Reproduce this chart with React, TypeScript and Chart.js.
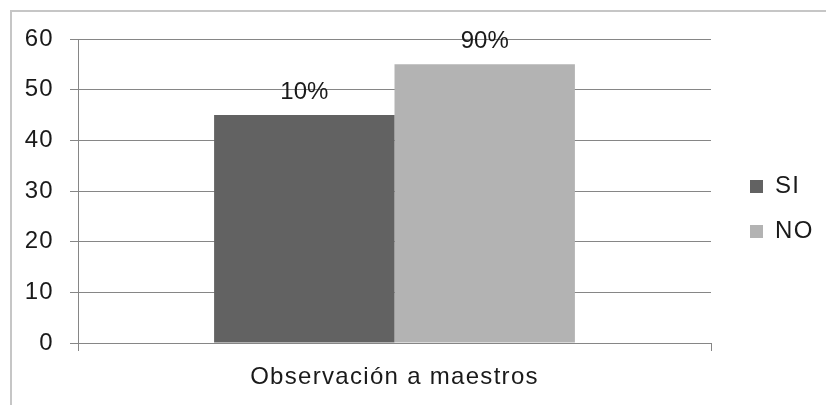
import React, { useEffect, useRef } from 'react';
import { Chart, registerables } from 'chart.js';

Chart.register(...registerables);

const categories = ['Observación a maestros'];
const seriesNames = ['SI', 'NO'];
const siValues = [45];
const noValues = [55];
const percentLabels = ['10%', '90%'];
const yMin = 0;
const yMax = 60;
const yStep = 10;

const FONT = "'Liberation Sans', Arial, sans-serif";
const TEXT = '#1a1a1a';
const AXIS = '#868686';

export default function App() {
  const ref = useRef<HTMLCanvasElement>(null);

  useEffect(() => {
    document.body.style.margin = '0';
    const canvas = ref.current;
    if (!canvas) return;

    const framePlugin = {
      id: 'frame',
      beforeDraw(chart: any) {
        const ctx = chart.ctx;
        ctx.save();
        ctx.strokeStyle = '#c6c6c6';
        ctx.lineWidth = 2;
        ctx.beginPath();
        ctx.moveTo(11, 430);
        ctx.lineTo(11, 11);
        ctx.lineTo(850, 11);
        ctx.stroke();
        ctx.restore();
        ctx.letterSpacing = '1.3px';
      },
      beforeDatasetsDraw(chart: any) {
        chart.ctx.letterSpacing = '0px';
      },
    };

    const legendShift = {
      id: 'legendShift',
      afterLayout(chart: any) {
        const lg = chart.legend;
        if (!lg) return;
        const DX = 18;
        const DY = -13;
        lg.left += DX;
        lg.right += DX;
        lg.top += DY;
        lg.bottom += DY;
      },
    };

    const dataLabels = {
      id: 'dataLabels',
      afterDatasetsDraw(chart: any) {
        const ctx = chart.ctx;
        ctx.save();
        ctx.letterSpacing = '0px';
        ctx.font = `24px ${FONT}`;
        ctx.fillStyle = TEXT;
        ctx.textAlign = 'center';
        ctx.textBaseline = 'alphabetic';
        chart.data.datasets.forEach((_ds: any, i: number) => {
          const meta = chart.getDatasetMeta(i);
          meta.data.forEach((el: any) => {
            ctx.fillText(percentLabels[i], el.x, el.y - 16);
          });
        });
        ctx.restore();
      },
    };

    const chart = new Chart(canvas, {
      type: 'bar',
      data: {
        labels: categories,
        datasets: [
          { label: seriesNames[0], data: siValues, backgroundColor: '#626262', borderWidth: 0 },
          { label: seriesNames[1], data: noValues, backgroundColor: '#b3b3b3', borderWidth: 0 },
        ],
      },
      options: {
        responsive: false,
        animation: false,
        devicePixelRatio: 1,
        layout: { padding: { top: 39, right: 23, bottom: 0, left: 0 } },
        datasets: { bar: { categoryPercentage: 0.57, barPercentage: 1 } },
        plugins: {
          tooltip: { enabled: false },
          legend: {
            position: 'right',
            labels: {
              font: { family: FONT, size: 24 },
              color: TEXT,
              boxWidth: 13,
              boxHeight: 13,
              padding: 21,
            },
          },
        },
        scales: {
          x: {
            grid: { drawOnChartArea: false, drawTicks: true, tickLength: 8, color: AXIS, offset: true },
            border: { color: AXIS },
            ticks: { font: { family: FONT, size: 24 }, color: TEXT, padding: 12 },
            afterFit: (s: any) => { s.height = 62; },
          },
          y: {
            min: yMin,
            max: yMax,
            ticks: { stepSize: yStep, padding: 16, font: { family: FONT, size: 24 }, color: TEXT },
            grid: { color: AXIS, tickLength: 8 },
            border: { color: AXIS },
            afterFit: (s: any) => { s.width = 78; },
          },
        },
      },
      plugins: [framePlugin, legendShift, dataLabels],
    } as any);

    return () => chart.destroy();
  }, []);

  return (
    <div style={{ width: 826, height: 405, position: 'relative' }}>
      <canvas ref={ref} width={826} height={405} style={{ display: 'block' }} />
    </div>
  );
}
